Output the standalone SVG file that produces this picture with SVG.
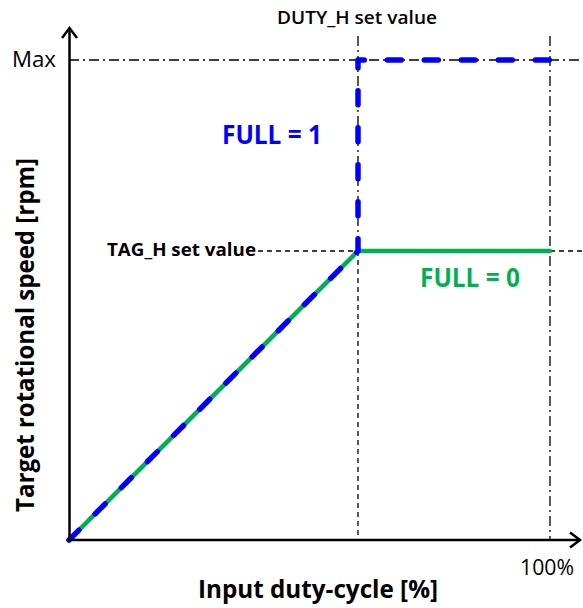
<svg xmlns="http://www.w3.org/2000/svg" width="583" height="608" viewBox="0 0 583 608">
<style>
  text { font-family: "Open Sans", "Liberation Sans", sans-serif; fill: #000; }
  .b { font-weight: bold; }
  .axis { stroke: #000; stroke-width: 2.5; fill: none; }
  .dashdot { stroke: #000; stroke-width: 1.3; fill: none; stroke-dasharray: 10 4 2 4; }
  .dash { stroke: #000; stroke-width: 1.3; fill: none; stroke-dasharray: 5 4; }
  .green { stroke: #00B050; stroke-width: 4.5; fill: none; stroke-linecap: round; }
  .blue { stroke: #0000FF; stroke-width: 5.5; fill: none; stroke-dasharray: 14 23; stroke-linecap: round; stroke-linejoin: round; }
</style>
<rect width="583" height="608" fill="#fff"/>
<g id="connectors">
  <g id="guides">
    <line class="dashdot" x1="69" y1="60" x2="583" y2="60"/>
    <line class="dashdot" x1="358" y1="36" x2="358" y2="251"/>
    <line class="dash" x1="358" y1="251" x2="358" y2="540"/>
    <line class="dashdot" x1="550" y1="36" x2="550" y2="540"/>
    <line class="dash" x1="258" y1="251" x2="358" y2="251"/>
    <line class="dash" x1="550" y1="251" x2="583" y2="251"/>
  </g>
  <g id="curves">
    <polyline class="green" points="69,540 358,251 550,251"/>
    <polyline class="blue" points="69,540 358,251 358,60 550,60"/>
  </g>
  <g id="axes">
    <line class="axis" x1="69.5" y1="541" x2="69.5" y2="28"/>
    <polyline class="axis" points="62,38 69.5,28 77,38"/>
    <line class="axis" x1="68" y1="540" x2="580" y2="540"/>
    <polyline class="axis" points="570,532.5 580,540 570,547.5"/>
  </g>
</g>
<g id="label-duty"><text x="357" y="24" font-size="18.5" font-weight="600" text-anchor="middle" textLength="160" lengthAdjust="spacingAndGlyphs">DUTY_H set value</text></g>
<g id="label-max"><text x="12" y="67" font-size="21" textLength="44" lengthAdjust="spacingAndGlyphs">Max</text></g>
<g id="label-tag"><text class="b" x="107" y="256" font-size="17.5" textLength="149" lengthAdjust="spacingAndGlyphs">TAG_H set value</text></g>
<g id="label-full1"><text class="b" x="222" y="144" font-size="26" style="fill:#0000FF" textLength="100" lengthAdjust="spacingAndGlyphs">FULL = 1</text></g>
<g id="label-full0"><text class="b" x="420" y="287" font-size="26" style="fill:#00B050" textLength="100" lengthAdjust="spacingAndGlyphs">FULL = 0</text></g>
<g id="label-100"><text x="520" y="575" font-size="21" textLength="54" lengthAdjust="spacingAndGlyphs">100%</text></g>
<g id="label-xaxis"><text class="b" x="198" y="598" font-size="25" textLength="240" lengthAdjust="spacingAndGlyphs">Input duty-cycle [%]</text></g>
<g id="label-yaxis"><text class="b" transform="translate(34,512) rotate(-90)" x="0" y="0" font-size="25" textLength="354" lengthAdjust="spacingAndGlyphs">Target rotational speed [rpm]</text></g>
</svg>
